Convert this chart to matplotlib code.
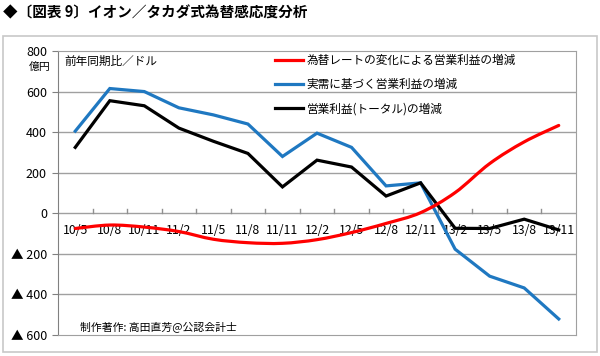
import numpy as np
import matplotlib
matplotlib.use('Agg')
import matplotlib.pyplot as plt
from matplotlib.path import Path
from matplotlib.patches import PathPatch, Rectangle
from matplotlib.lines import Line2D
import matplotlib.transforms as mtransforms

plt.rcParams['font.family'] = ['Noto Sans CJK JP', 'DejaVu Sans']

# --- data ---
periods = ['10/5', '10/8', '10/11', '11/2', '11/5', '11/8', '11/11', '12/2',
           '12/5', '12/8', '12/11', '13/2', '13/5', '13/8', '13/11']
fx_effect = [-75, -58, -68, -90, -128, -145, -148, -130, -95, -50, 3, 102, 245, 352, 433]
real_demand = [405, 615, 600, 520, 485, 440, 280, 395, 325, 135, 150, -177, -310, -368, -521]
total = [325, 555, 530, 420, 355, 295, 130, 262, 228, 85, 150, -74, -75, -29, -82]
ytick_vals = [800, 600, 400, 200, 0, -200, -400, -600]
ytick_labels = ['800', '600', '400', '200', '0', '▲ 200', '▲ 400', '▲ 600']
series_names = ['為替レートの変化による営業利益の増減', '実需に基づく営業利益の増減', '営業利益(トータル)の増減']

RED = '#ff0000'
BLUE = '#1f78c1'
BLACK = '#000000'

W, H = 600, 356
fig = plt.figure(figsize=(W / 100, H / 100), dpi=100)

# outer frame
fig.patches.append(Rectangle((3 / W, 4 / H), 594 / W, 316 / H, transform=fig.transFigure,
                             fill=False, edgecolor='#c8c8c8', linewidth=1.2))
fig.text(3 / W, 1 - 12 / H, '◆〔図表 9〕イオン／タカダ式為替感応度分析', fontsize=10.5,
         fontweight='bold', va='center', ha='left')

ax = fig.add_axes([58 / W, 1 - 335 / H, 518 / W, 284 / H])
x = np.arange(len(periods))
ax.set_xlim(-0.5, len(periods) - 0.5)
ax.set_ylim(-600, 800)

for s in ['top', 'right', 'bottom']:
    ax.spines[s].set_color('#a0a0a0')
ax.spines['left'].set_color('#808080')
ax.set_yticks(ytick_vals)
ax.set_yticklabels(ytick_labels, fontsize=9)
ax.tick_params(axis='y', length=4, color='#808080', pad=4)
ax.set_xticks([])
for v in ytick_vals:
    if v not in (800, -600):
        ax.axhline(v, color='#a0a0a0', linewidth=1.0, zorder=1)

# category tick marks on the zero line
for b in np.arange(0.5, len(periods) - 1, 1.0):
    ax.plot([b, b], [0, 22], color='#909090', linewidth=1.0, zorder=1)

# category labels below zero line
lab_trans = mtransforms.offset_copy(ax.transData, fig=fig, x=0, y=-17 * 72 / 100, units='points')
for xi, lab in zip(x, periods):
    ax.text(xi, 0, lab, transform=lab_trans, ha='center', va='center', fontsize=8.8, zorder=2)

# smoothed red line (Catmull-Rom -> cubic bezier)
pts = np.column_stack([x, fx_effect]).astype(float)
verts = [tuple(pts[0])]
codes = [Path.MOVETO]
n = len(pts)
for i in range(n - 1):
    p0 = pts[i - 1] if i > 0 else pts[i]
    p1 = pts[i]
    p2 = pts[i + 1]
    p3 = pts[i + 2] if i + 2 < n else pts[i + 1]
    c1 = p1 + (p2 - p0) / 6
    c2 = p2 - (p3 - p1) / 6
    verts += [tuple(c1), tuple(c2), tuple(p2)]
    codes += [Path.CURVE4] * 3
ax.add_patch(PathPatch(Path(verts, codes), fill=False, edgecolor=RED, linewidth=2.3,
                       capstyle='round', joinstyle='round', zorder=4))

ax.plot(x, real_demand, color=BLUE, linewidth=2.3, zorder=3, solid_joinstyle='miter')
ax.plot(x, total, color=BLACK, linewidth=2.3, zorder=3, solid_joinstyle='miter')

handles = [Line2D([], [], color=c, linewidth=2.3) for c in (RED, BLUE, BLACK)]
ax.legend(handles, series_names, loc='upper left', bbox_to_anchor=((273 - 58) / 518, 1 - 1 / 284),
          frameon=False, fontsize=8.4, handlelength=2.4, handletextpad=0.3, borderpad=0.2,
          labelspacing=0.95, borderaxespad=0)

fig.text(64 / W, 1 - 61 / H, '前年同期比／ドル', fontsize=8.4, va='center', ha='left')
fig.text(51 / W, 1 - 67 / H, '億円', fontsize=7.8, va='center', ha='right')
fig.text(80 / W, 1 - 327 / H, '制作著作: 高田直芳@公認会計士', fontsize=7.8, va='center', ha='left')

fig.savefig('out.png', dpi=100)
